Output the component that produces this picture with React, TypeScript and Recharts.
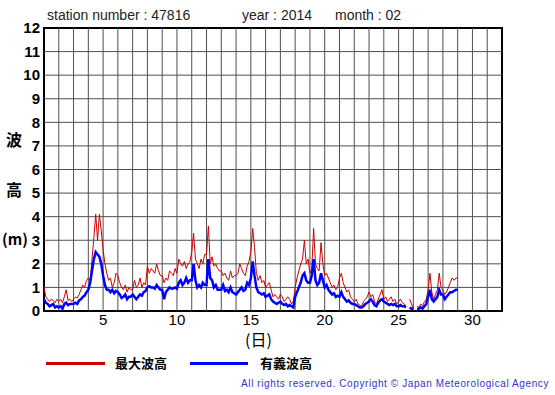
import React from 'react';
import { LineChart, Line, XAxis, YAxis, ReferenceLine, ReferenceArea } from 'recharts';

// 3-hourly values (00,03,06,09,12,15,18,21h), day 1 .. day 28, plus day 29 00h
const maxWave: (number | null)[] = [
  1.0, 0.6, 0.5, 0.4, 0.5, 0.45, 0.35, 0.5,
  0.4, 0.5, 0.35, 0.6, 0.9, 0.45, 0.5, 0.4,
  0.5, 0.6, 0.55, 0.7, 0.9, 1.1, 1.0, 1.3,
  1.4, 1.3, 2.2, 3.1, 4.1, 3.0, 4.1, 3.4,
  2.6, 2.0, 1.6, 1.3, 1.4, 1.0, 1.2, 1.6,
  1.5, 1.2, 1.0, 0.9, 1.1, 0.8, 1.0, 0.9,
  0.9, 1.3, 1.0, 1.1, 1.4, 1.0, 1.2, 1.1,
  1.9, 1.6, 1.8, 1.7, 1.6, 2.0, 1.7, 1.5,
  1.5, 1.2, 1.4, 1.3, 1.7, 1.6, 1.5, 1.8,
  1.6, 2.2, 2.0, 1.9, 2.1, 1.8, 2.0, 2.1,
  2.5, 3.3, 2.2, 2.0, 1.8, 2.2, 2.0, 2.4,
  2.4, 3.6, 2.0, 2.3, 1.9, 2.0, 1.8, 1.7,
  1.7, 1.5, 1.6, 1.4, 1.3, 1.7, 1.4, 1.5,
  1.5, 1.6, 2.0, 1.8, 1.6, 1.5, 1.9, 2.1,
  2.5, 3.5, 2.7, 1.6, 1.3, 1.5, 1.2, 1.3,
  1.0, 1.1, 1.2, 0.9, 0.6, 0.7, 0.6, 0.5,
  0.7, 0.6, 0.4, 0.5, 0.6, 0.5, 0.3, 0.4,
  1.0, 1.4, 1.7, 2.0, 2.2, 3.0, 2.0, 2.2,
  1.6, 1.8, 3.5, 2.0, 1.8, 1.7, 2.9, 2.0,
  1.5, 1.6, 1.4, 1.2, 1.0, 1.1, 0.9, 1.0,
  1.4, 1.6, 1.2, 1.0, 0.8, 0.9, 0.6, 0.5,
  0.4, 0.5, 0.3, 0.25, 0.2, 0.4, 0.5, 0.6,
  0.8, 0.6, 0.7, 0.4, 0.3, 0.5, 0.7, 0.9,
  0.5, 0.6, 0.4, 0.5, 0.6, 0.4, 0.5, 0.3,
  0.4, 0.5, 0.35, 0.3, 0.2, null, 0.5, 0.3,
  0.1, null, 0.2, 0.15, 0.3, 0.2, 0.4, 0.5,
  0.9, 1.6, 0.8, 0.5, 0.7, 0.9, 1.6, 1.0,
  0.9, 0.7, 0.8, 1.0, 1.2, 1.4, 1.3, 1.4,
  1.4,
];

const sigWave: (number | null)[] = [
  0.5, 0.35, 0.3, 0.2, 0.25, 0.3, 0.15, 0.2,
  0.15, 0.2, 0.1, 0.3, 0.35, 0.25, 0.3, 0.3,
  0.3, 0.35, 0.3, 0.45, 0.5, 0.6, 0.65, 0.8,
  0.9, 1.2, 1.7, 2.2, 2.5, 2.4, 2.3, 2.0,
  1.5, 1.1, 0.9, 0.9, 0.8, 0.9, 0.75, 0.85,
  0.8, 0.7, 0.55, 0.6, 0.7, 0.5, 0.6, 0.6,
  0.7, 0.6, 0.5, 0.6, 0.7, 0.65, 0.8, 0.85,
  1.0, 1.05, 1.0, 1.0, 0.95, 1.1, 1.0, 0.9,
  0.9, 0.5, 0.8, 0.9, 1.0, 0.95, 0.95, 1.0,
  0.95, 1.2, 1.3, 1.1, 1.2, 1.4, 1.2, 1.3,
  1.3, 2.0, 1.3, 1.0, 1.1, 1.0, 1.2, 1.1,
  1.1, 2.2, 1.4, 1.3, 1.0, 1.1, 0.9, 0.9,
  0.9, 1.1, 0.85, 0.9, 0.8, 1.0, 0.8, 0.75,
  0.7, 0.8, 0.9, 1.0, 0.85, 0.9, 1.2, 1.1,
  1.4, 2.1, 1.5, 1.0, 0.8, 0.75, 0.7, 0.75,
  0.6, 0.65, 0.7, 0.5, 0.4, 0.35, 0.3, 0.35,
  0.4, 0.3, 0.25, 0.3, 0.2, 0.25, 0.2, 0.15,
  0.6, 0.8, 1.0, 1.2, 1.5, 1.6, 1.3, 1.2,
  1.2, 1.5, 2.2, 1.3, 1.1, 1.2, 1.6, 1.3,
  1.0, 1.1, 0.9, 0.8, 0.7, 0.75, 0.6, 0.65,
  0.6, 0.8, 0.6, 0.5, 0.4, 0.45, 0.35, 0.3,
  0.3, 0.25, 0.2, 0.15, 0.15, 0.2, 0.3, 0.35,
  0.4, 0.5, 0.4, 0.25, 0.2, 0.35, 0.45, 0.5,
  0.4, 0.35, 0.3, 0.25, 0.3, 0.25, 0.3, 0.2,
  0.2, 0.25, 0.2, 0.2, 0.15, null, 0.15, 0.1,
  0.1, null, 0.1, 0.1, 0.15, 0.1, 0.2, 0.3,
  0.6, 0.9, 0.5, 0.4, 0.5, 0.6, 0.9, 0.7,
  0.7, 0.5, 0.6, 0.7, 0.8, 0.8, 0.85, 0.9,
  0.9,
];

const xTicks = [5, 10, 15, 20, 25, 30];
const yTicks = [0, 1, 2, 3, 4, 5, 6, 7, 8, 9, 10, 11, 12];
const dayLines = [2, 3, 4, 5, 6, 7, 8, 9, 10, 11, 12, 13, 14, 15, 16, 17, 18, 19, 20, 21, 22, 23, 24, 25, 26, 27, 28, 29, 30, 31];
const meterLines = [1, 2, 3, 4, 5, 6, 7, 8, 9, 10, 11];

const data = maxWave.map((v, i) => ({ t: 1 + i / 8, max: v, sig: sigWave[i] }));

const sans = '"Liberation Sans", Arial, sans-serif';
const jp = '"Noto Sans CJK JP", sans-serif';

export default function App() {
  return (
    <div style={{ position: 'absolute', left: 0, top: 0, width: 555, height: 395, background: '#fff', fontFamily: sans }}>
      <LineChart width={555} height={395} data={data} margin={{ top: 28, right: 53, bottom: 0, left: 0 }}>
        <XAxis
          dataKey="t"
          type="number"
          domain={[1, 32]}
          ticks={xTicks}
          height={84}
          axisLine={false}
          tickLine={false}
          tickSize={0}
          tickMargin={3}
          tick={{ fontSize: 15, fill: '#000', fontFamily: sans }}
          allowDataOverflow
        />
        <YAxis
          type="number"
          domain={[0, 12]}
          ticks={yTicks}
          width={44}
          axisLine={false}
          tickLine={false}
          tickSize={0}
          tickMargin={4}
          interval={0}
          tick={{ fontSize: 15, fontWeight: 'bold', fill: '#000', fontFamily: sans }}
        />
        {dayLines.map((d) => (
          <ReferenceLine key={'d' + d} x={d} stroke="#505050" strokeWidth={1} />
        ))}
        {meterLines.map((m) => (
          <ReferenceLine key={'m' + m} y={m} stroke="#505050" strokeWidth={1} />
        ))}
        <Line dataKey="max" stroke="#cc0000" strokeWidth={1} dot={false} isAnimationActive={false} connectNulls={false} />
        <Line dataKey="sig" stroke="#0000ff" strokeWidth={2.5} dot={false} isAnimationActive={false} connectNulls={false} />
        <ReferenceArea x1={1} x2={32} y1={0} y2={12} fill="none" stroke="#000" strokeWidth={2} />
      </LineChart>

      <div style={{ position: 'absolute', top: 7, left: 47, fontSize: 14, color: '#222', whiteSpace: 'pre' }}>
        station number : 47816
      </div>
      <div style={{ position: 'absolute', top: 7, left: 242, fontSize: 14, color: '#222', whiteSpace: 'pre' }}>
        year : 2014
      </div>
      <div style={{ position: 'absolute', top: 7, left: 335, fontSize: 14, color: '#222', whiteSpace: 'pre' }}>
        month : 02
      </div>

      <div style={{ position: 'absolute', top: 129, left: 6, fontSize: 16, fontWeight: 'bold', fontFamily: jp, lineHeight: '20px' }}>波</div>
      <div style={{ position: 'absolute', top: 179, left: 6, fontSize: 16, fontWeight: 'bold', fontFamily: jp, lineHeight: '20px' }}>高</div>
      <div style={{ position: 'absolute', top: 229, left: 2, fontSize: 15, fontWeight: 'bold', fontFamily: jp, lineHeight: '20px' }}>(m)</div>

      <div style={{ position: 'absolute', top: 331, left: 245, fontSize: 16, fontFamily: jp, lineHeight: '16px' }}>(日)</div>

      <div style={{ position: 'absolute', top: 362, left: 46, width: 59, height: 3, background: '#cc0000' }} />
      <div style={{ position: 'absolute', top: 354, left: 115, fontSize: 13, fontWeight: 'bold', fontFamily: jp, lineHeight: '18px' }}>最大波高</div>
      <div style={{ position: 'absolute', top: 362, left: 190, width: 58, height: 3, background: '#0000ff' }} />
      <div style={{ position: 'absolute', top: 354, left: 260, fontSize: 13, fontWeight: 'bold', fontFamily: jp, lineHeight: '18px' }}>有義波高</div>

      <div style={{ position: 'absolute', top: 378, right: 6, fontSize: 10, color: '#3333cc', letterSpacing: 0.6, whiteSpace: 'pre', fontFamily: sans }}>
        All rights reserved. Copyright © Japan Meteorological Agency
      </div>
    </div>
  );
}
